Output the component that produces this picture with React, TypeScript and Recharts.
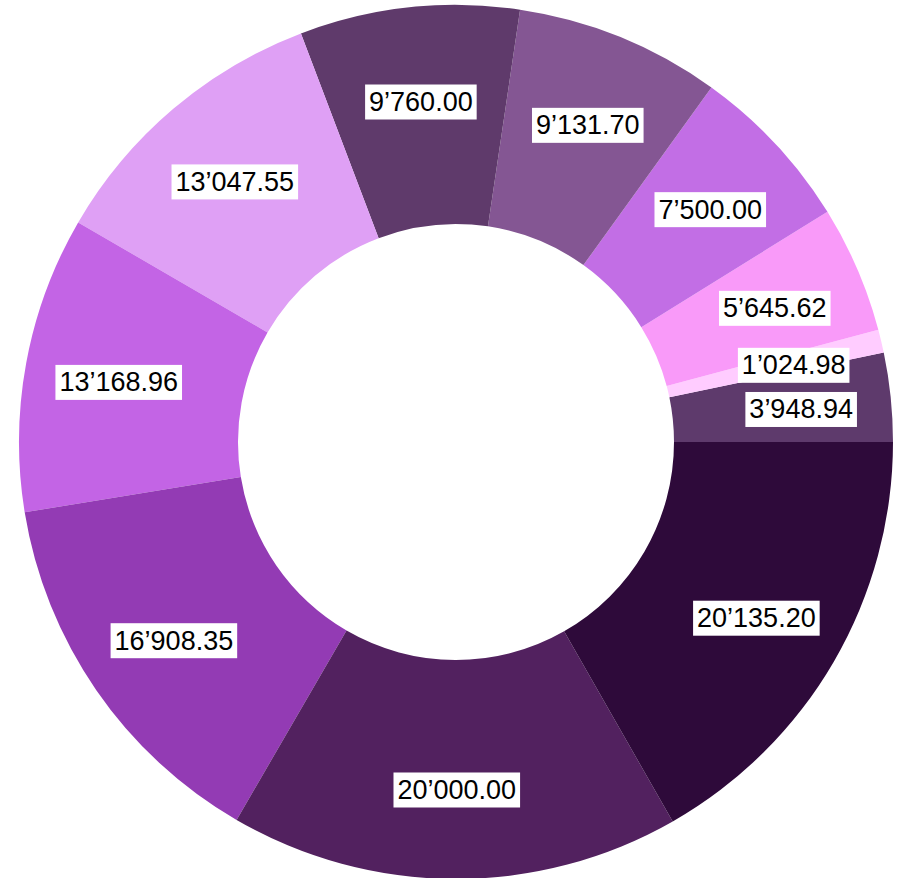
import { PieChart, Pie, Cell } from "recharts"

// slice values, counter-clockwise from 3 o'clock
const values = [
  3948.94, 1024.98, 5645.62, 7500.0, 9131.7, 9760.0, 13047.55, 13168.96,
  16908.35, 20000.0, 20135.2,
]

const colors = [
  "#5e3a6c",
  "#ffccff",
  "#f99af9",
  "#c26ee5",
  "#845693",
  "#5f3a6b",
  "#dfa0f5",
  "#c364e5",
  "#933bb4",
  "#52215f",
  "#2e0a3a",
]

const data = values.map((value, i) => ({ name: `s${i}`, value }))

const RADIAN = Math.PI / 180
const FONT_SIZE = 27

// thousands separator is a right single quote
function fmt(v: number) {
  const [int, dec] = v.toFixed(2).split(".")
  return int.replace(/\B(?=(\d{3})+(?!\d))/g, "\u2019") + "." + dec
}

// rough Arial advance widths, enough to size the white box
function textWidth(s: string) {
  let w = 0
  for (const ch of s) {
    if (ch === ".") w += 0.278
    else if (ch === "\u2019") w += 0.222
    else w += 0.556
  }
  return w * FONT_SIZE
}

function renderLabel(props: any) {
  const { cx, cy, midAngle, value } = props
  const r = 345
  const x = cx + r * Math.cos(-midAngle * RADIAN) + 2
  const y = cy + r * Math.sin(-midAngle * RADIAN) + 3
  const txt = fmt(value)
  const w = textWidth(txt) + 8
  const h = 35
  return (
    <g>
      <rect x={x - w / 2} y={y - h / 2} width={w} height={h} fill="#ffffff" />
      <text
        x={x}
        y={y}
        textAnchor="middle"
        dominantBaseline="central"
        fill="#000000"
        fontSize={FONT_SIZE}
        fontFamily='"Liberation Sans", Arial, sans-serif'
      >
        {txt}
      </text>
    </g>
  )
}

export default function App() {
  return (
    <div style={{ position: "absolute", left: 0, top: 0 }}>
      <PieChart
        width={897}
        height={878}
        margin={{ top: 0, right: 0, bottom: 0, left: 0 }}
      >
        <Pie
          data={data}
          dataKey="value"
          cx={456}
          cy={442}
          innerRadius={218}
          outerRadius={437}
          startAngle={0}
          endAngle={360}
          stroke="none"
          label={renderLabel}
          labelLine={false}
          isAnimationActive={false}
        >
          {data.map((d, i) => (
            <Cell key={d.name} fill={colors[i]} />
          ))}
        </Pie>
      </PieChart>
    </div>
  )
}
